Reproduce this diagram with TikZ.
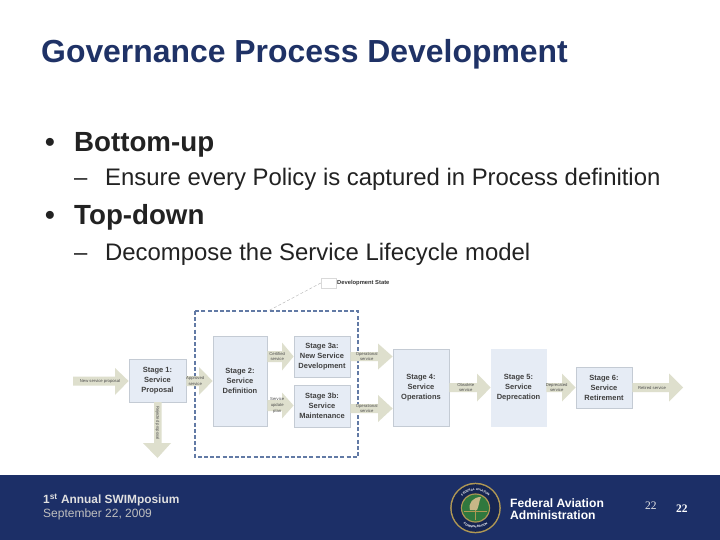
\documentclass[tikz,border=0pt]{standalone}
\usepackage{fontspec}
\setmainfont{Liberation Sans}
\newfontfamily\serifft{Liberation Serif}
\usetikzlibrary{calc,decorations.text}
\definecolor{navy}{RGB}{28,47,103}
\definecolor{titlecol}{RGB}{31,50,102}
\definecolor{bodycol}{RGB}{34,34,34}
\definecolor{stagefill}{RGB}{230,236,245}
\definecolor{stageline}{RGB}{196,203,212}
\definecolor{arrowfill}{RGB}{222,223,205}
\definecolor{dashcol}{RGB}{98,122,165}
\definecolor{sealgold}{RGB}{176,152,84}
\definecolor{sealgreen}{RGB}{48,120,62}
\tikzset{
  stagebox/.style={draw=stageline,line width=0.8pt,fill=stagefill,align=center,inner sep=0pt,
    font=\fontsize{7.5}{10}\selectfont\bfseries,text=black!75},
  arrowtext/.style={align=center,inner sep=0pt,font=\fontsize{4.2}{5.8}\selectfont,text=black!70},
  arrowshape/.style={fill=arrowfill,draw=none},
  titletext/.style={anchor=base west,inner sep=0pt,font=\fontsize{31.9}{36}\selectfont\bfseries,text=titlecol},
  headtext/.style={anchor=base west,inner sep=0pt,font=\fontsize{27.7}{32}\selectfont\bfseries,text=bodycol},
  subtext/.style={anchor=base west,inner sep=0pt,font=\fontsize{23.9}{28}\selectfont,text=bodycol},
  foot/.style={anchor=base west,inner sep=0pt,text=white},
}
% \harrow{name}{from}{to}{y}{x of head base}{half shaft}{half head}{label}
\newcommand{\harrow}[8]{%
  \coordinate (#1a) at (#2.east |- 0,#4);
  \coordinate (#1b) at (#3.west |- 0,#4);
  \path[arrowshape] ($(#1a)+(0,-#6)$) -- ($(#5,#4)+(0,-#6)$) -- ($(#5,#4)+(0,-#7)$) -- (#1b)
    -- ($(#5,#4)+(0,#7)$) -- ($(#5,#4)+(0,#6)$) -- ($(#1a)+(0,#6)$) -- cycle;
  \node[arrowtext] (#1) at ($(#1a)!0.5!(#5,#4)+(2.5,0)$) {#8};
}
\begin{document}
\begin{tikzpicture}[x=1pt,y=-1pt]
\useasboundingbox (0,0) rectangle (720,540);
\fill[white] (0,0) rectangle (720,540);

% Title and bullets
\node[titletext] (title) at (41,63) {Governance Process Development};
\node[headtext] (b1) at (45,151.5) {•};
\node[headtext] (h1) at (74,151.5) {Bottom-up};
\node[subtext] (d1) at (74,186) {–};
\node[subtext] (s1t) at (105,186) {Ensure every Policy is captured in Process definition};
\node[headtext] (b2) at (45,225) {•};
\node[headtext] (h2) at (74,225) {Top-down};
\node[subtext] (d2) at (74,260) {–};
\node[subtext] (s2t) at (105,260) {Decompose the Service Lifecycle model};

% Development state box and legend
\draw[dashcol,line width=1.2pt,dash pattern=on 4pt off 2.2pt] (195,311) rectangle (358,457);
\coordinate (dsedge) at (269,310.5);
\node[draw=black!15,fill=white,minimum width=15pt,minimum height=10pt,inner sep=0pt] (legend) at (328.5,283) {};
\draw[black!30,densely dashed,line width=0.4pt] (legend.west) -- (dsedge);
\node[anchor=west,inner sep=0pt,font=\fontsize{5.8}{7}\selectfont\bfseries,text=black!80] (legendt) at (337,283) {Development State};

% Free ends
\coordinate (newin) at (73,381);
\coordinate (retout) at (683,387.5);

% Stage boxes
\node[stagebox,minimum width=57pt,minimum height=43pt] (st1) at (157.5,380.5) {Stage 1:\\Service\\Proposal};
\node[stagebox,minimum width=54pt,minimum height=90pt] (st2) at (240,381) {Stage 2:\\Service\\Definition};
\node[stagebox,minimum width=56pt,minimum height=41pt] (st3a) at (322,356.5) {Stage 3a:\\New Service\\Development};
\node[stagebox,minimum width=56pt,minimum height=42pt] (st3b) at (322,406) {Stage 3b:\\Service\\Maintenance};
\node[stagebox,minimum width=56pt,minimum height=77pt] (st4) at (421,387.5) {Stage 4:\\Service\\Operations};
\node[stagebox,minimum width=55pt,minimum height=77pt,draw=stagefill] (st5) at (518.5,387.5) {Stage 5:\\Service\\Deprecation};
\node[stagebox,minimum width=56pt,minimum height=41pt] (st6) at (604,387.5) {Stage 6:\\Service\\Retirement};

% Block arrows between stages
\path[arrowshape] (newin) ++(0,-4.5) -- (115,376.5) -- (115,368) -- (st1.west |- 0,381) -- (115,395) -- (115,385.5) -- ($(newin)+(0,4.5)$) -- cycle;
\node[arrowtext] (newt) at (100,381) {New service proposal};
\harrow{appr}{st1}{st2}{381}{199}{5}{14}{Approved\\service}
\harrow{cert}{st2}{st3a}{356.5}{282}{5.5}{14}{Certified\\service}
\harrow{upd}{st2}{st3b}{405.5}{282}{5.5}{13}{Service\\update\\plan}
\harrow{op1}{st3a}{st4}{356.5}{378}{4.5}{13}{Operational\\service}
\harrow{op2}{st3b}{st4}{408.5}{378}{4.5}{13.5}{Operational\\service}
\harrow{obs}{st4}{st5}{387.5}{477}{4.5}{14}{Obsolete\\service}
\harrow{depr}{st5}{st6}{387.5}{562}{4.5}{14}{Deprecated\\service}
\path[arrowshape] (st6.east |- 0,387.5) ++(0,-4.5) -- (669,383) -- (669,373.5) -- (retout) -- (669,401.5) -- (669,392) -- ($(st6.east |- 0,387.5)+(0,4.5)$) -- cycle;
\node[arrowtext] (rett) at (652,387.5) {Retired service};
\coordinate (rejout) at (157.5,458);
\path[arrowshape] (154,402) -- (154,443) -- (143,443) -- (rejout) -- (171,443) -- (161.5,443) -- (161.5,402) -- cycle;
\node[arrowtext,rotate=-90] (rejt) at (157.5,423) {Rejected proposal};

% Footer
\fill[navy] (0,475) rectangle (720,540);
\node[foot,font=\fontsize{11.9}{14}\selectfont\bfseries,text=black!12] (f1) at (43,503.5) {1\textsuperscript{st} Annual SWIMposium};
\node[foot,font=\fontsize{12}{14}\selectfont,text=black!25] (f2) at (43,517.5) {September 22, 2009};
\node[foot,font=\fontsize{12.1}{14}\selectfont\bfseries] (f3) at (510,507) {Federal Aviation};
\node[foot,font=\fontsize{12.1}{14}\selectfont\bfseries] (f4) at (510,519) {Administration};
\node[foot,font=\fontsize{11.5}{13}\selectfont\serifft,text=black!10] (p1) at (645,509) {22};
\node[foot,font=\fontsize{11.5}{13}\selectfont\serifft\bfseries] (p2) at (676,512) {22};

% FAA seal
\coordinate (seal) at (475.5,508);
\fill[sealgold] (seal) circle (25.3);
\fill[navy!80!black] (seal) circle (23.8);
\fill[sealgold] (seal) circle (14.6);
\fill[sealgreen] (seal) circle (13.4);
\path[decorate,decoration={text along path,text align=center,
   text={|\fontsize{3}{4}\selectfont\bfseries\color{white}|FEDERAL AVIATION}}]
   (475.5-17.5,508) arc[start angle=180,end angle=0,x radius=17.5,y radius=-17.5];
\path[decorate,decoration={text along path,text align=center,
   text={|\fontsize{3}{4}\selectfont\bfseries\color{white}|ADMINISTRATION}}]
   (475.5-20,508) arc[start angle=180,end angle=360,x radius=20,y radius=-20];
\draw[sealgold,line width=1pt] (464,511) -- (487,511);
\draw[sealgold,line width=1pt] (475.5,510) -- (475.5,520);
\fill[sealgold!70!white] (470,510) .. controls (468,503) and (473,497) .. (481,497) .. controls (479,501) and (479,506) .. (477,510) -- cycle;
\end{tikzpicture}
\end{document}
